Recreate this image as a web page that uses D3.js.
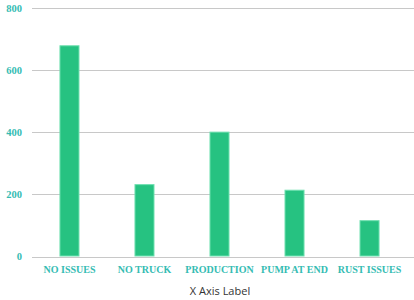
<!DOCTYPE html>
<html>
<head>
<meta charset="utf-8">
<script src="https://cdn.jsdelivr.net/npm/d3@7"></script>
<style>
  body { margin: 0; background: #fff; }
  svg { display: block; }
</style>
</head>
<body>
<script>
const categories = ["NO ISSUES", "NO TRUCK", "PRODUCTION", "PUMP AT END", "RUST ISSUES"];
const values = [680, 233, 402, 215, 117];
const yTicks = [0, 200, 400, 600, 800];

const width = 414, height = 300;
const svg = d3.select("body").append("svg")
    .attr("width", width)
    .attr("height", height);

const x = d3.scaleBand()
    .domain(categories)
    .range([32, 407])
    .paddingInner(0.733)
    .paddingOuter(0.366);

const y = d3.scaleLinear()
    .domain([0, 800])
    .range([256.5, 8]);

// grid lines
svg.append("g")
  .selectAll("line")
  .data(yTicks)
  .join("line")
    .attr("x1", 32)
    .attr("x2", width)
    .attr("y1", d => Math.round(y(d)) + 0.5)
    .attr("y2", d => Math.round(y(d)) + 0.5)
    .attr("stroke", "#c8c8c8")
    .attr("stroke-width", 1);

// y tick labels
svg.append("g")
  .selectAll("text")
  .data(yTicks)
  .join("text")
    .attr("x", 22)
    .attr("y", d => y(d))
    .attr("dy", "0.35em")
    .attr("text-anchor", "end")
    .style("font", "bold 10.5px 'Liberation Serif', serif")
    .attr("fill", "#35bcb3")
    .text(d => d);

// bars
svg.append("g")
  .selectAll("rect")
  .data(categories)
  .join("rect")
    .attr("x", d => x(d) + 0.5)
    .attr("width", x.bandwidth() - 1)
    .attr("y", (d, i) => y(values[i]) + 0.5)
    .attr("height", (d, i) => y(0) - y(values[i]) - 1)
    .attr("fill", "#26c281")
    .attr("stroke", "#6fe0b0")
    .attr("stroke-width", 1);

// x labels
svg.append("g")
  .selectAll("text")
  .data(categories)
  .join("text")
    .attr("x", d => x(d) + x.bandwidth() / 2)
    .attr("y", 273)
    .attr("text-anchor", "middle")
    .style("font", "bold 10px 'Liberation Serif', serif")
    .attr("fill", "#35bcb3")
    .text(d => d);

svg.append("text")
    .attr("x", 220)
    .attr("y", 295)
    .attr("text-anchor", "middle")
    .style("font", "11px 'Open Sans', sans-serif")
    .attr("fill", "#333")
    .text("X Axis Label");
</script>
</body>
</html>
